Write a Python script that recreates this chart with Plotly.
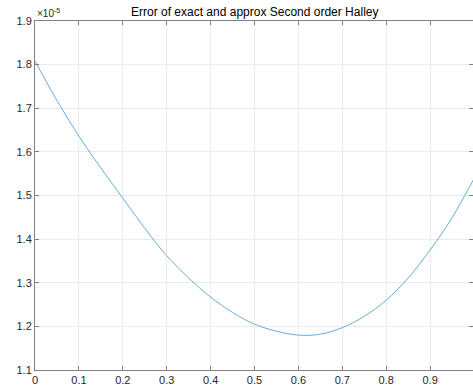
import plotly.graph_objects as go

x_vals = [0.0, 0.05, 0.1, 0.15, 0.2, 0.25, 0.3, 0.35, 0.4, 0.45, 0.5,
          0.55, 0.6, 0.65, 0.7, 0.75, 0.8, 0.85, 0.9, 0.95, 1.0]
err_vals = [1.808e-5, 1.718e-5, 1.636e-5, 1.563e-5, 1.494e-5, 1.425e-5, 1.362e-5,
            1.311e-5, 1.267e-5, 1.232e-5, 1.205e-5, 1.189e-5, 1.180e-5, 1.182e-5,
            1.197e-5, 1.223e-5, 1.260e-5, 1.311e-5, 1.375e-5, 1.449e-5, 1.539e-5]
y_ticks = [1.1e-5, 1.2e-5, 1.3e-5, 1.4e-5, 1.5e-5, 1.6e-5, 1.7e-5, 1.8e-5, 1.9e-5]
y_tick_labels = ["1.1", "1.2", "1.3", "1.4", "1.5", "1.6", "1.7", "1.8", "1.9"]
x_ticks = [0, 0.1, 0.2, 0.3, 0.4, 0.5, 0.6, 0.7, 0.8, 0.9]
x_tick_labels = ["0", "0.1", "0.2", "0.3", "0.4", "0.5", "0.6", "0.7", "0.8", "0.9"]
title_text = "Error of exact and approx Second order Halley"

FONT = "Liberation Sans, Arial, Helvetica, sans-serif"

fig = go.Figure()
fig.add_trace(go.Scatter(x=x_vals, y=err_vals, mode="lines",
                         line=dict(color="#2a86cc", width=0.7, shape="spline"),
                         showlegend=False, hoverinfo="skip"))

axis_common = dict(showgrid=True, gridcolor="#ebebeb", gridwidth=1,
                   showline=True, linecolor="#808080", linewidth=1,
                   ticks="inside", ticklen=4, tickcolor="#808080",
                   mirror="ticks", zeroline=False,
                   tickfont=dict(family=FONT, size=11, color="#262626"))

fig.update_xaxes(range=[0, 0.9977], tickvals=x_ticks, ticktext=x_tick_labels, **axis_common)
fig.update_yaxes(range=[1.1e-5, 1.9e-5], tickvals=y_ticks, ticktext=y_tick_labels, **axis_common)

fig.update_layout(
    width=473, height=389,
    margin=dict(l=35, r=0, t=21, b=19),
    paper_bgcolor="white", plot_bgcolor="white",
    font=dict(family=FONT, size=11, color="#262626"),
    annotations=[
        dict(text=title_text, x=0.5, y=1.0, xref="paper", yref="paper",
             xanchor="center", yanchor="bottom", yshift=0, showarrow=False,
             font=dict(family=FONT, size=12, color="#000000")),
        dict(text="×10<sup>-5</sup>", x=0, y=1.0, xref="paper", yref="paper",
             xanchor="left", yanchor="bottom", xshift=0, yshift=0, showarrow=False,
             font=dict(family=FONT, size=10, color="#262626")),
    ],
)

fig.write_html("out.html",
               config={"displayModeBar": False},
               post_script="document.body.style.margin='0';document.body.style.padding='0';document.body.style.overflow='hidden';")
